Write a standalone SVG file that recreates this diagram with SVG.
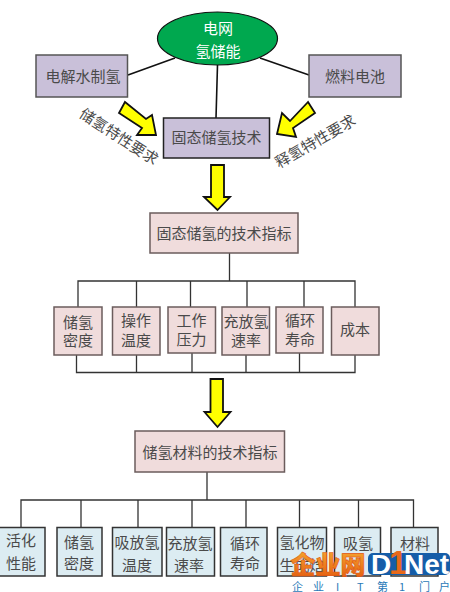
<svg xmlns="http://www.w3.org/2000/svg" width="450" height="592" viewBox="0 0 450 592">
<style>
text{font-family:"Noto Sans CJK SC","Liberation Sans",sans-serif;font-size:15px;fill:#4a4a4a;text-anchor:middle}
.p rect{fill:#c9c0d9;stroke:#555;stroke-width:1.5}
.r rect{fill:#f0dcdc;stroke:#6b5c5c;stroke-width:1.5}
.b rect{fill:#dcecf2;stroke:#333;stroke-width:1.5}
.c{fill:none;stroke:#333;stroke-width:1.3}
.a{fill:#ffff00;stroke:#111;stroke-width:1.8;stroke-linejoin:miter}
.w{font-family:"Liberation Sans",sans-serif;font-weight:bold;font-size:28px;fill:#fff;text-anchor:start}
</style>
<defs><linearGradient id="og" x1="0" y1="0" x2="0" y2="1"><stop offset="0" stop-color="#f9b233"/><stop offset="1" stop-color="#e2570f"/></linearGradient></defs>
<rect width="450" height="592" fill="#fff"/>
<g id="connectors">
<path class="c" style="stroke-width:1.6;stroke:#111" d="M128 75L175 58M217.500 65L216 118M260 58L309 75"/>
<path class="c" d="M229.500 253V281M78 307V281H355V307M136.500 281V307M190.500 281V307M247 281V307M304 281V307"/>
<path class="c" d="M76.500 355V372.500H355V355M136.500 355V372.500M192 353V372.500M246 355V372.500M299.500 353V372.500"/>
<path class="c" d="M207 472V500M21 527V500H413.500V527M81 500V527M138 500V527M192 500V527M246 500V527M299.500 500V527M358.500 500V527"/>
</g>
<g id="arrow-left"><polygon class="a" points="125,102 146,119 152,115 156,135 137,135 142,128 119,113"/></g>
<g id="arrow-right"><polygon class="a" points="308,102 290,121 282,113 277,134 296,137 293,128 315,113"/></g>
<g id="arrow-down-1"><polygon class="a" points="211,165 224,165 224,197 230,197 217.500,210 204,197 211,197"/></g>
<g id="arrow-down-2"><polygon class="a" points="210.500,379 223,379 223,412 230.500,412 217.500,427 204.500,412 210.500,412"/></g>
<g id="grid"><ellipse cx="217.500" cy="38.500" rx="60" ry="26.500" fill="#00a84f" stroke="#111" stroke-width="1.2"/>
<text x="218" y="34" style="fill:#fff">电网</text><text x="218" y="57" style="fill:#fff">氢储能</text></g>
<g id="electrolysis" class="p"><rect x="36" y="55" width="91.500" height="42"/><text x="83" y="82">电解水制氢</text></g>
<g id="fuelcell" class="p"><rect x="309" y="55" width="92" height="42"/><text x="355" y="82">燃料电池</text></g>
<g id="solid" class="p"><rect x="163.500" y="118" width="106" height="40" style="stroke:#222"/><text x="216.500" y="143">固态储氢技术</text></g>
<text transform="translate(116 141) rotate(33)">储氢特性要求</text>
<text transform="translate(318 146) rotate(-30)">释氢特性要求</text>
<g id="solid-index" class="r"><rect x="150" y="213" width="148" height="40"/><text x="224" y="239">固态储氢的技术指标</text></g>
<g id="s1" class="r"><rect x="54" y="307" width="48" height="48"/><text x="78" y="328">储氢</text><text x="78" y="346">密度</text></g>
<g id="s2" class="r"><rect x="112.500" y="307" width="47.500" height="48"/><text x="136" y="326">操作</text><text x="136" y="346">温度</text></g>
<g id="s3" class="r"><rect x="168" y="307" width="47.500" height="46"/><text x="191.500" y="326">工作</text><text x="191.500" y="345">压力</text></g>
<g id="s4" class="r"><rect x="222" y="307" width="47.500" height="48"/><text x="246" y="327">充放氢</text><text x="246" y="346">速率</text></g>
<g id="s5" class="r"><rect x="276" y="307" width="47" height="46"/><text x="300" y="326">循环</text><text x="300" y="345">寿命</text></g>
<g id="s6" class="r"><rect x="331.500" y="307" width="47.500" height="48"/><text x="355" y="335">成本</text></g>
<g id="material-index" class="r"><rect x="135" y="431" width="149.500" height="41"/><text x="210" y="458">储氢材料的技术指标</text></g>
<g id="m1" class="b"><rect x="-1" y="527.500" width="46" height="48.500"/><text x="21" y="546">活化</text><text x="21" y="569">性能</text></g>
<g id="m2" class="b"><rect x="57" y="527.500" width="45" height="48.500"/><text x="79" y="548">储氢</text><text x="79" y="569">密度</text></g>
<g id="m3" class="b"><rect x="112.500" y="527.500" width="49.500" height="48.500"/><text x="137" y="548">吸放氢</text><text x="137" y="571">温度</text></g>
<g id="m4" class="b"><rect x="166.500" y="527.500" width="48" height="48.500"/><text x="190" y="549">充放氢</text><text x="189" y="571">速率</text></g>
<g id="m5" class="b"><rect x="220.500" y="527.500" width="46.500" height="48.500"/><text x="245" y="549">循环</text><text x="245" y="569">寿命</text></g>
<g id="m6" class="b"><rect x="277.500" y="527.500" width="49" height="48.500"/><text x="302" y="548">氢化物</text><text x="302" y="571">生成焓</text></g>
<g id="m7" class="b"><rect x="334.500" y="527.500" width="46" height="48.500"/><text x="358" y="549">吸氢</text></g>
<g id="m8" class="b"><rect x="391" y="527.500" width="47" height="48.500"/><text x="415" y="549">材料</text></g>
<g id="watermark">
<text x="328" y="574" style="font-size:25px;font-weight:900;fill:url(#og);stroke:#e2570f;stroke-width:.6">企业网</text>
<rect x="368" y="553" width="82" height="22" rx="5" fill="#155da8"/>
<text class="w" x="371" y="574">D</text>
<text class="w" x="389" y="574" style="fill:#e8691a;font-size:33px">1</text>
<text class="w" x="404" y="574">Net</text>
<text x="292 313 336 357 377 399 419 439" y="591" style="font-size:11px;fill:#2a7ab8;text-anchor:start">企业IT第1门户</text>
</g>
</svg>
